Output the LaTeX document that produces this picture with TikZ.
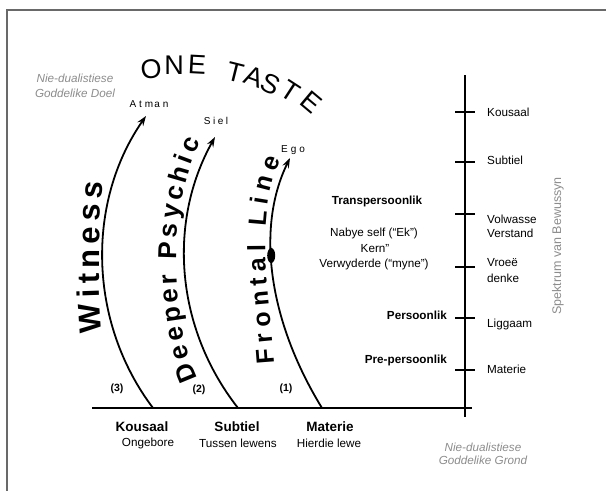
\documentclass[tikz,border=0pt]{standalone}
\usepackage{fontspec}
\setmainfont{Liberation Sans}
\usetikzlibrary{decorations.text,arrows.meta,shapes.geometric}
\definecolor{framegray}{RGB}{105,105,105}
\definecolor{txtgray}{RGB}{140,140,140}
\newcommand{\fs}[1]{\fontsize{#1}{#1}\selectfont}
\begin{document}
\begin{tikzpicture}[x=1pt,y=-1pt,
  lb/.style={font=\fs{11.7}, inner sep=0pt},
  blb/.style={font=\fs{11.7}\bfseries, inner sep=0pt},
  bigb/.style={font=\fs{13.5}\bfseries, inner sep=0pt},
  gr/.style={font=\fs{11.7}\itshape, text=txtgray, inner sep=0pt},
  num/.style={font=\fs{10.5}\bfseries, inner sep=0pt},
  small/.style={font=\fs{10}, inner sep=0pt},
  letter/.style={font=\fs{27}, inner sep=0pt},
  arc/.style={line width=1.8pt, -{Stealth[length=10pt,width=7pt,inset=3.5pt]}},
  axisline/.style={line width=1.8pt},
  tick/.style={line width=2.8pt},
  dot/.style={ellipse, fill=black, minimum width=8pt, minimum height=15pt, inner sep=0pt},
]
\useasboundingbox (0,0) rectangle (606,491);
% frame
\draw[framegray, line width=1.6pt] (606,10) -- (7,10) -- (7,491);

% top-left label
\node[gr] (doel1) at (75,78) {Nie-dualistiese};
\node[gr] (doel2) at (75,93) {Goddelike Doel};

% ONE TASTE
\node[letter, rotate=6]   (l1) at (151,69) {O};
\node[letter]             (l2) at (174,65) {N};
\node[letter, rotate=-3]  (l3) at (197,65) {E};
\node[letter, rotate=-14] (l4) at (235,72) {T};
\node[letter, rotate=-20] (l5) at (254,77) {A};
\node[letter, rotate=-26] (l6) at (271,84) {S};
\node[letter, rotate=-33] (l7) at (290,91) {T};
\node[letter, rotate=-40] (l8) at (311,102) {E};

% arc labels
\node[small] (atman) at (149,104) {A\hspace{3pt}t\hspace{3pt}m\hspace{1pt}a\hspace{3pt}n};
\node[small] (siel) at (216,121) {S\hspace{2.5pt}i\hspace{2.5pt}e\hspace{2.5pt}l};
\node[small] (ego) at (293,150) {E\hspace{3pt}g\hspace{3pt}o};

% baseline and axis
\coordinate (b0) at (92,408);
\coordinate (b1) at (472,408);
\draw[axisline] (b0) -- (b1);
\coordinate (a0) at (465,75);
\coordinate (a1) at (465,417);
\draw[axisline] (a0) -- (a1);
\foreach \yy/\nm in {112/t1,162/t2,214/t3,267/t4,318/t5,370/t6}{
  \coordinate (\nm l) at (455,\yy);
  \coordinate (\nm r) at (475,\yy);
  \draw[tick] (\nm l) -- (\nm r);
}

% arcs
\coordinate (w0) at (153,408);
\coordinate (w1) at (146,116);
\draw[arc] (w0) .. controls (88,322) and (86,202) .. (w1);
\coordinate (d0) at (238,408);
\coordinate (d1) at (215,137);
\draw[arc] (d0) .. controls (176,329) and (167,223) .. (d1);
\coordinate (f0) at (322,408);
\coordinate (f1) at (290,158);
\draw[arc] (f0) .. controls (268,320) and (256,227) .. (f1)
  node[dot, pos=0.58] (fdot) {};

% curved texts
\path[decorate, decoration={text along path, text={|\fs{31}\bfseries|Witness}, text align={fit to path}}]
  (102,332) .. controls (98,290) and (98,225) .. (103,182);
\path[decorate, decoration={text along path, text={|\fs{26}\bfseries|Deeper Psychic}, text align={fit to path}}]
  (198,378) .. controls (172,326) and (165,210) .. (201,142);
\path[decorate, decoration={text along path, text={|\fs{25}\bfseries|Frontal Line}, text align={fit to path}}]
  (274,363) .. controls (270,300) and (253,218) .. (281,160);

% numbers
\node[num] (n3) at (117,389) {(3)};
\node[num] (n2) at (199,390) {(2)};
\node[num] (n1) at (286,389) {(1)};

% bottom labels
\node[bigb] (bk) at (142,427) {Kousaal};
\node[lb] (bo) at (148,443) {Ongebore};
\node[bigb] (bs) at (237,427) {Subtiel};
\node[lb] (bt) at (238,443) {Tussen lewens};
\node[bigb] (bm) at (330,427) {Materie};
\node[lb] (bh) at (329,443) {Hierdie lewe};
\node[gr] (gr1) at (483,447) {Nie-dualistiese};
\node[gr] (gr2) at (483,460) {Goddelike Grond};

% middle labels
\node[blb] (tp) at (377,201) {Transpersoonlik};
\node[lb] (ns) at (374,233) {Nabye self (“Ek”)};
\node[lb] (kn) at (375,249) {Kern”};
\node[lb] (vw) at (374,264) {Verwyderde (“myne”)};
\node[blb, anchor=east] (ps) at (447,315) {Persoonlik};
\node[blb, anchor=east] (pp) at (447,360) {Pre-persoonlik};

% right labels
\node[lb, anchor=west] (r1) at (487,112) {Kousaal};
\node[lb, anchor=west] (r2) at (487,160) {Subtiel};
\node[lb, anchor=west] (r3a) at (487,219) {Volwasse};
\node[lb, anchor=west] (r3b) at (487,233) {Verstand};
\node[lb, anchor=west] (r4a) at (487,263) {Vroeë};
\node[lb, anchor=west] (r4b) at (487,278) {denke};
\node[lb, anchor=west] (r5) at (487,324) {Liggaam};
\node[lb, anchor=west] (r6) at (487,369) {Materie};

% spectrum label
\node[font=\fs{12.5}, text=txtgray, rotate=90, inner sep=0pt] (spek) at (558,246) {Spektrum van Bewussyn};
\end{tikzpicture}
\end{document}
